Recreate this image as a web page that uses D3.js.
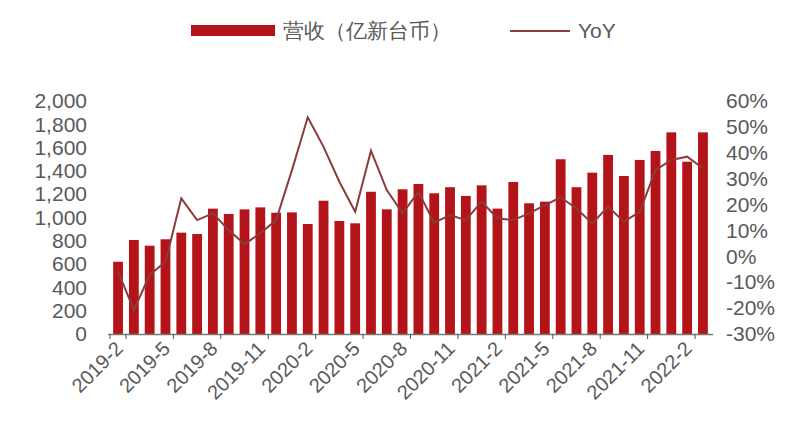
<!DOCTYPE html><html><head><meta charset="utf-8"><script src="https://cdn.jsdelivr.net/npm/d3@7"></script>
<style>body{margin:0;background:#fff}text{font-family:"Liberation Sans",Arial,sans-serif}</style></head><body>
<svg id="c" width="800" height="443"></svg>
<script>
const months=[];for(let y=2019,m=2;months.length<38;){months.push(y+"-"+m);m++;if(m>12){m=1;y++;}}
const revenue=[620,807,758,813,870,858,1076,1030,1070,1087,1041,1044,944,1144,970,950,1221,1070,1242,1288,1208,1260,1185,1276,1076,1305,1122,1136,1500,1260,1385,1537,1356,1494,1571,1731,1479,1731];
const yoy=[-5.9,-20.7,-7.2,-2.1,22.4,14,16.6,10.2,4.7,8.9,14,33.3,53.7,42.3,28.8,17.2,40.8,25.6,16.6,24.9,13,15.9,14,21.1,14.7,14,16.6,19.8,22.8,18.5,12.7,19.2,13.4,17.2,33.3,37.2,38.5,34];
const leftTicks=d3.range(0,2001,200);
const rightTicks=d3.range(-30,61,10);
const svg=d3.select("#c");
const x=d3.scaleBand().domain(months).range([110,711]).paddingInner(0.38).paddingOuter(0.2);
const yL=d3.scaleLinear().domain([0,2000]).range([334,101]);
const yR=d3.scaleLinear().domain([-30,60]).range([334,101]);
const grey="#595959";
svg.append("g").selectAll("rect").data(revenue).join("rect")
 .attr("x",(d,i)=>x(months[i])).attr("width",x.bandwidth()).attr("y",d=>yL(d)).attr("height",d=>yL(0)-yL(d)).attr("fill","#b2141a");
svg.append("path").datum(yoy).attr("fill","none").attr("stroke","#8c3b3b").attr("stroke-width",2)
 .attr("d",d3.line().x((d,i)=>x(months[i])+x.bandwidth()/2).y(d=>yR(d)));
const gl=svg.append("g").attr("transform","translate(100,0)").call(d3.axisLeft(yL).tickValues(leftTicks).tickSize(0).tickFormat(d3.format(",")));
gl.select(".domain").remove();
gl.selectAll("text").attr("font-size",21).attr("fill",grey).attr("x",-13);
const gr=svg.append("g").attr("transform","translate(718,0)").call(d3.axisRight(yR).tickValues(rightTicks).tickSize(0).tickFormat(d=>d+"%"));
gr.select(".domain").remove();
gr.selectAll("text").attr("font-size",21).attr("fill",grey).attr("x",8);
svg.append("line").attr("x1",108).attr("x2",713).attr("y1",334.5).attr("y2",334.5).attr("stroke","#777").attr("stroke-width",1.5);
const tickIdx=months.map((m,i)=>i).filter(i=>i%3===0);
svg.append("g").selectAll("line").data([0,...tickIdx.map(i=>i+1)]).join("line")
 .attr("x1",i=>i===0?110:x(months[i-1])+x.bandwidth()+x.step()*0.19).attr("x2",i=>i===0?110:x(months[i-1])+x.bandwidth()+x.step()*0.19)
 .attr("y1",334).attr("y2",339).attr("stroke","#555");
svg.append("g").selectAll("text").data(tickIdx).join("text")
 .attr("transform",i=>`translate(${x(months[i])+x.bandwidth()/2+6},${350}) rotate(-45)`)
 .attr("text-anchor","end").attr("font-size",20).attr("fill",grey).text(i=>months[i]);
svg.append("rect").attr("x",191).attr("y",25).attr("width",84).attr("height",11).attr("fill","#b2141a");
svg.append("text").attr("x",283).attr("y",38).attr("font-size",21).attr("fill",grey).attr("font-family","Noto Sans CJK SC").text("营收（亿新台币）");
svg.append("line").attr("x1",510).attr("x2",570).attr("y1",31).attr("y2",31).attr("stroke","#8c3b3b").attr("stroke-width",2);
svg.append("text").attr("x",578).attr("y",38).attr("font-size",21).attr("fill",grey).attr("font-family","Liberation Serif").text("YoY");
</script></body></html>
